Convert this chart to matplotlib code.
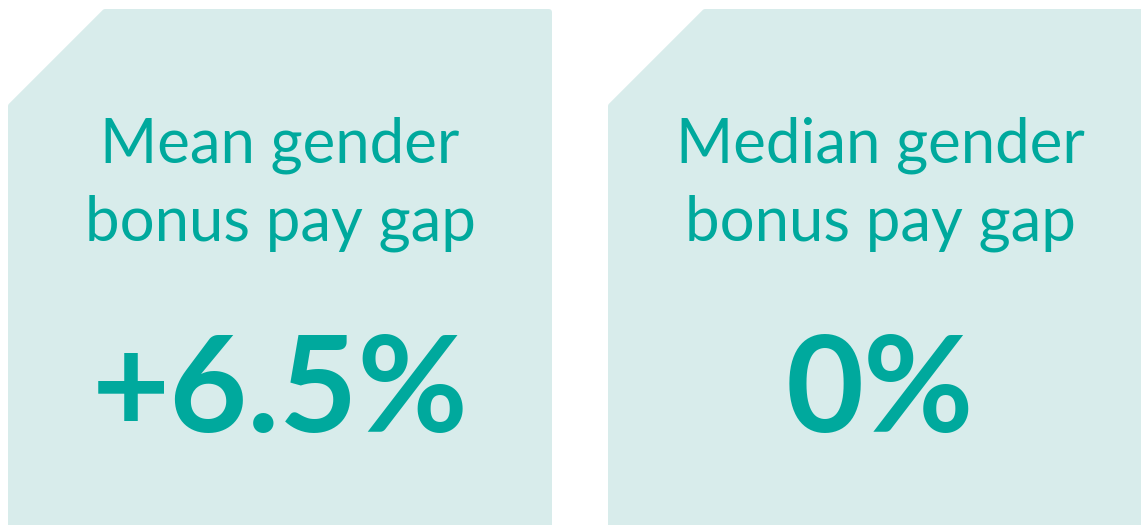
import matplotlib
matplotlib.use("Agg")
import matplotlib.pyplot as plt
from matplotlib.patches import Polygon

# Data
title_line1 = ["Mean gender", "Median gender"]
title_line2 = ["bonus pay gap", "bonus pay gap"]
values = ["+6.5%", "0%"]

W, H = 1141, 525
fig = plt.figure(figsize=(W / 100, H / 100), dpi=100)
ax = fig.add_axes([0, 0, 1, 1])
ax.set_xlim(0, W)
ax.set_ylim(H, 0)
ax.axis("off")

fill = "#d8eceb"
teal = "#00a99d"

card_left = [8, 608]
card_w = 544
top, bottom = 9, 540
cut = 95
inset = 3

for i in range(len(values)):
    x0 = card_left[i] + inset
    x1 = x0 + card_w - 2 * inset
    y0 = top + inset
    y1 = bottom
    pts = [(x0 + cut - 1, y0), (x1, y0), (x1, y1), (x0, y1), (x0, y0 + cut - 1)]
    ax.add_patch(Polygon(pts, closed=True, facecolor=fill, edgecolor=fill,
                         linewidth=4.3, joinstyle="round"))
    cx = card_left[i] + card_w / 2
    ax.text(cx, 163, title_line1[i], ha="center", va="baseline", color=teal,
            fontsize=44.5, family="Lato", fontweight="normal")
    ax.text(cx, 240, title_line2[i], ha="center", va="baseline", color=teal,
            fontsize=44.5, family="Lato", fontweight="normal")
    ax.text(cx, 432, values[i], ha="center", va="baseline", color=teal,
            fontsize=97, family="Lato", fontweight="bold")

fig.savefig("out.png", dpi=100)
